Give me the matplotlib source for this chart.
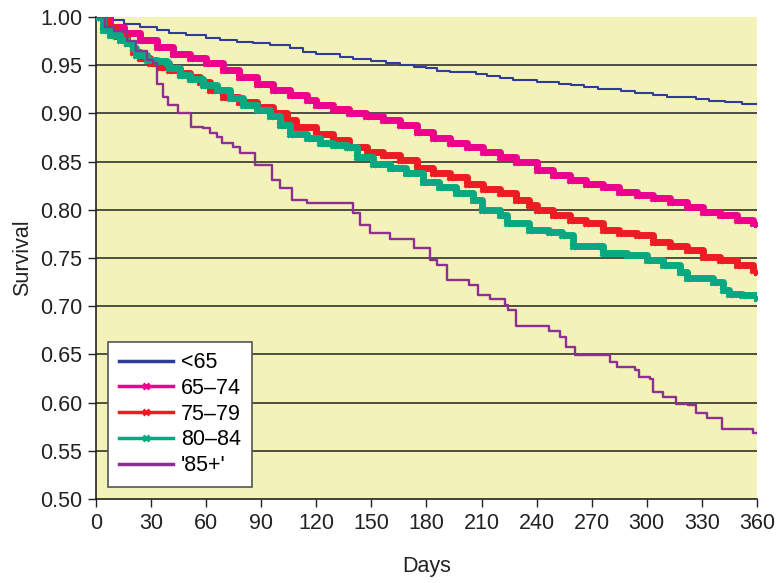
import matplotlib
matplotlib.use('Agg')
import matplotlib.pyplot as plt

plt.rcParams['font.family'] = ['Liberation Sans', 'DejaVu Sans']

# Kaplan-Meier survival by age group
days_lt65 = [0, 7.6, 15, 24, 33, 40, 49, 60, 67.5, 76.6, 85.7, 94.8, 105.7, 113, 120,
             133, 140, 150, 158, 165.6, 173, 180, 185.5, 193, 207, 212.8, 220, 227,
             240, 252, 259, 266, 273.6, 286, 293.6, 303.6, 311, 327, 334, 342.6, 351.7, 360]
surv_lt65 = [1.0, 0.997, 0.993, 0.990, 0.987, 0.983, 0.981, 0.978, 0.976, 0.974, 0.973, 0.971, 0.968, 0.964, 0.962,
             0.959, 0.956, 0.954, 0.952, 0.950, 0.948, 0.947, 0.944, 0.943, 0.941, 0.939, 0.937, 0.935,
             0.933, 0.931, 0.929, 0.927, 0.925, 0.923, 0.921, 0.919, 0.917, 0.915, 0.913, 0.912, 0.910, 0.910]

days_6574 = [0, 7.6, 15, 24, 33, 42, 51, 60, 69, 78, 87.5, 96.6, 105.7, 114.8, 120, 129, 138, 147,
             156.5, 165.6, 174.7, 183.7, 193, 202, 211, 220, 229, 240, 249, 258, 267, 276, 285,
             294.5, 303.6, 312.6, 321.7, 330.8, 339.9, 349, 358, 360]
surv_6574 = [1.0, 0.990, 0.983, 0.976, 0.969, 0.962, 0.957, 0.952, 0.945, 0.938, 0.931, 0.924, 0.919, 0.914, 0.909, 0.905, 0.900, 0.897,
             0.893, 0.888, 0.881, 0.874, 0.869, 0.865, 0.860, 0.855, 0.850, 0.841, 0.836, 0.831, 0.827, 0.824, 0.819,
             0.815, 0.812, 0.808, 0.803, 0.798, 0.795, 0.789, 0.786, 0.785]

days_7579 = [0, 6, 11, 16.7, 20, 24, 29.4, 35, 40, 46, 51, 56.6, 62, 69, 78, 87.5, 96.6, 103.9, 109, 120,
             129, 138, 147.4, 156.5, 165.6, 174.7, 183.7, 193, 202, 211, 220, 229, 236, 240, 249, 258,
             267, 276, 285, 294.5, 303.6, 312.6, 321.7, 330.8, 340, 349, 358, 360]
surv_7579 = [1.0, 0.990, 0.980, 0.973, 0.964, 0.957, 0.952, 0.948, 0.945, 0.942, 0.938, 0.933, 0.924, 0.917, 0.912, 0.907, 0.900, 0.893, 0.886, 0.879,
             0.872, 0.865, 0.860, 0.857, 0.852, 0.843, 0.838, 0.834, 0.827, 0.822, 0.817, 0.810, 0.805, 0.800, 0.795, 0.789,
             0.786, 0.779, 0.776, 0.774, 0.767, 0.763, 0.758, 0.751, 0.748, 0.743, 0.738, 0.736]

days_8084 = [0, 4, 7.6, 13, 16.7, 20, 22, 27.6, 33, 38.5, 40, 46, 51, 58.4, 65.7, 73, 80, 87.5, 94.8, 100,
             105.7, 114.7, 122, 129, 136.6, 142, 151, 160, 169, 178, 187, 196, 205.5, 210, 220, 223.7,
             236, 247, 254, 260, 274.5, 276, 289, 300, 309, 318, 321.7, 336, 341.7, 345, 352, 360]
surv_8084 = [1.0, 0.987, 0.981, 0.976, 0.973, 0.968, 0.961, 0.955, 0.954, 0.952, 0.947, 0.940, 0.936, 0.929, 0.924, 0.916, 0.909, 0.904, 0.897, 0.888,
             0.879, 0.874, 0.869, 0.867, 0.865, 0.855, 0.848, 0.843, 0.838, 0.829, 0.824, 0.817, 0.810, 0.800, 0.795, 0.786,
             0.779, 0.777, 0.774, 0.763, 0.762, 0.755, 0.753, 0.748, 0.743, 0.736, 0.729, 0.725, 0.717, 0.713, 0.712, 0.709]

days_85 = [0, 5, 10, 17, 22, 27.6, 31, 33, 36.6, 39, 44.7, 52, 58, 62, 66, 68.5, 74.7, 78.4, 86.6, 96,
           100, 106.6, 114.7, 140, 143.8, 149, 160, 173, 182, 185.5, 191, 203, 208, 214.6, 222.8,
           224.4, 229, 247, 252.7, 256, 261, 280, 284, 293.6, 296, 301.7, 303.5, 309, 316, 322.5,
           327, 332.6, 340.8, 358, 360]
surv_85 = [1.0, 0.990, 0.985, 0.975, 0.965, 0.955, 0.952, 0.931, 0.917, 0.909, 0.900, 0.886, 0.885, 0.880, 0.876, 0.869, 0.865, 0.859, 0.846, 0.831,
           0.823, 0.810, 0.807, 0.797, 0.784, 0.776, 0.770, 0.760, 0.748, 0.743, 0.727, 0.722, 0.712, 0.707, 0.701,
           0.696, 0.680, 0.674, 0.668, 0.658, 0.649, 0.642, 0.637, 0.634, 0.627, 0.625, 0.611, 0.606, 0.599, 0.598,
           0.589, 0.584, 0.573, 0.568, 0.568]

fig = plt.figure(figsize=(7.77, 5.83), dpi=100)
ax = fig.add_axes([0.1236, 0.144, 0.8505, 0.8268])
ax.set_facecolor('#f3f2b9')

for y in [0.55, 0.60, 0.65, 0.70, 0.75, 0.80, 0.85, 0.90, 0.95]:
    ax.axhline(y, color='#222222', lw=1.1, zorder=1)

ax.plot(days_lt65, surv_lt65, drawstyle='steps-post', color='#2e3d99', lw=1.5, label='<65', zorder=3)
ax.plot(days_6574, surv_6574, drawstyle='steps-post', color='#ec008c', lw=5, marker='x',
        ms=5, mew=2, label='65–74', zorder=3)
ax.plot(days_7579, surv_7579, drawstyle='steps-post', color='#ed1c24', lw=5, marker='x',
        ms=5, mew=2, label='75–79', zorder=3)
ax.plot(days_8084, surv_8084, drawstyle='steps-post', color='#0aa882', lw=5, marker='x',
        ms=5, mew=2, label='80–84', zorder=3)
ax.plot(days_85, surv_85, drawstyle='steps-post', color='#8e2f92', lw=1.7, label="'85+'", zorder=4)

ax.set_xlim(0, 360)
ax.set_ylim(0.5, 1.0)
ax.set_xticks(range(0, 361, 30))
ax.set_yticks([0.5 + 0.05 * i for i in range(11)])
ax.set_yticklabels(['%.2f' % (0.5 + 0.05 * i) for i in range(11)])
ax.tick_params(direction='out', length=6, width=1, labelsize=15.5, colors='#222222', pad=4)
for s in ['top', 'right']:
    ax.spines[s].set_visible(False)
for s in ['left', 'bottom']:
    ax.spines[s].set_color('#222222')
    ax.spines[s].set_linewidth(1.2)

ax.set_xlabel('Days', fontsize=15.5, color='#222222', labelpad=16)
ax.set_ylabel('Survival', fontsize=15.5, color='#222222', labelpad=5)

leg = ax.legend(loc='lower left', bbox_to_anchor=(0.018, 0.025), borderaxespad=0,
                fontsize=15.5, numpoints=1, fancybox=False, framealpha=1,
                edgecolor='#555555', handlelength=2.5, labelspacing=0.22,
                borderpad=0.5, handletextpad=0.4)
for h in leg.get_lines():
    h.set_linewidth(2.5)
leg.get_frame().set_linewidth(1.2)

fig.savefig('out.png', dpi=100)
